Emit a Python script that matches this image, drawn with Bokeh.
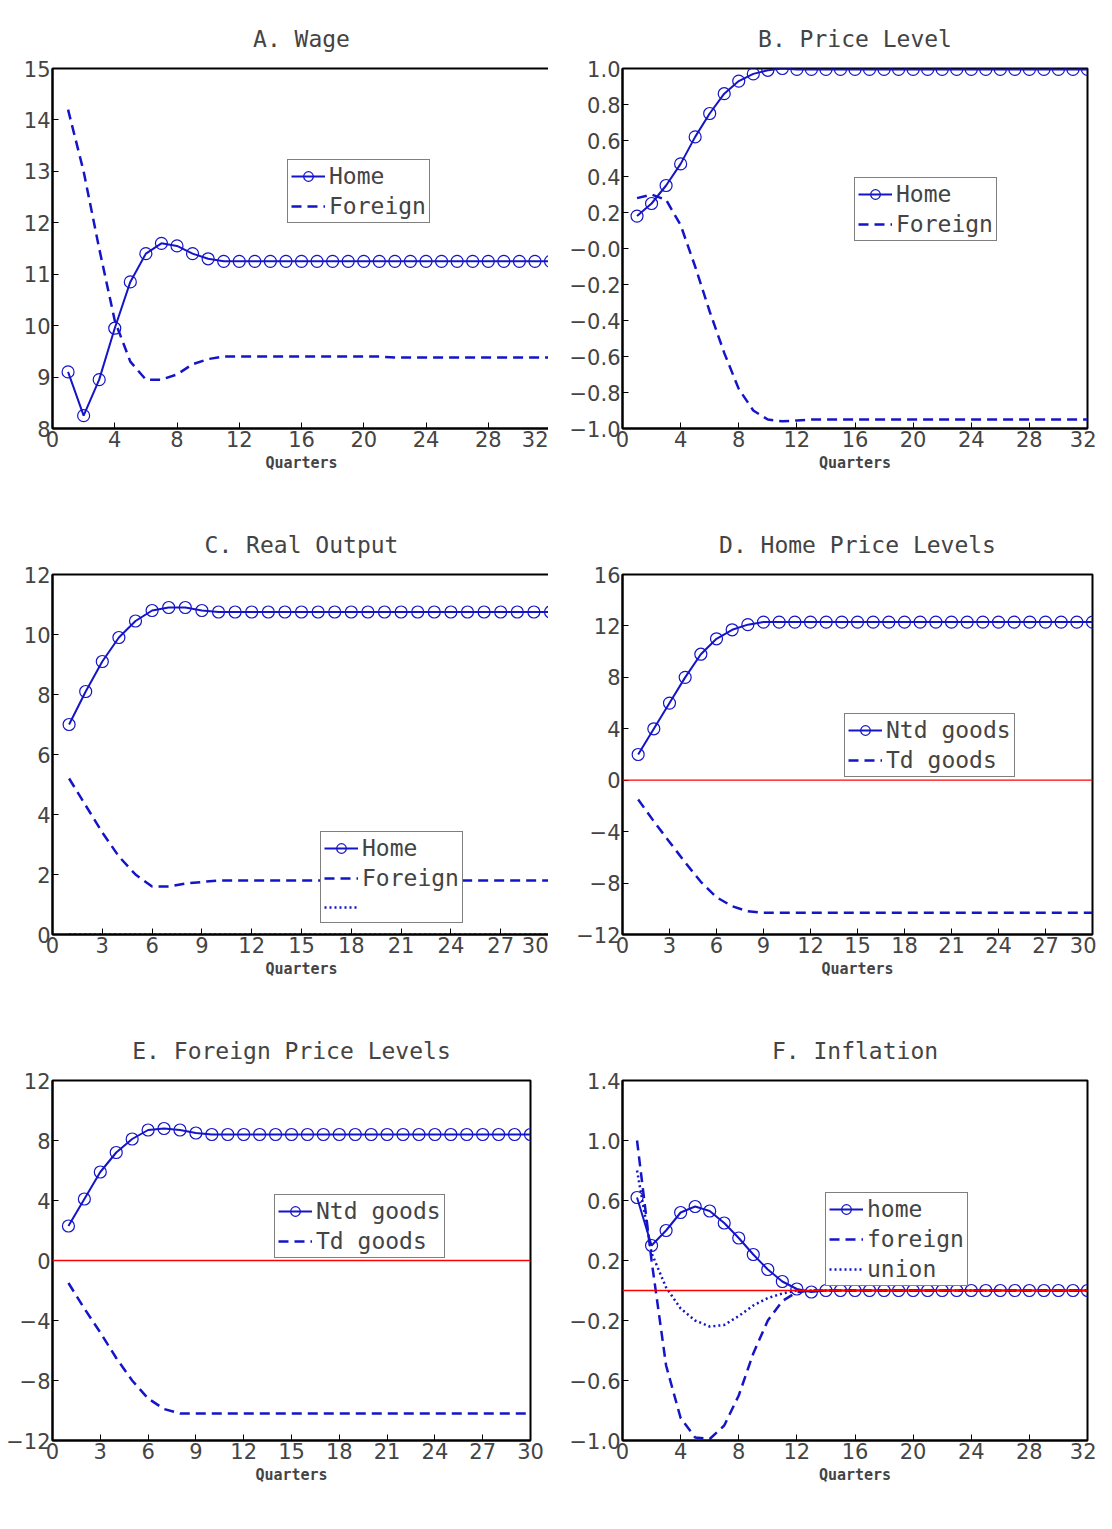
from bokeh.plotting import figure
from bokeh.models import Range1d, FixedTicker, Legend, LegendItem, Span
from bokeh.layouts import gridplot
from bokeh.embed import file_html
from bokeh.resources import INLINE

BLUE = "#1414c8"
FONT = "DejaVu Sans"
MONO = "DejaVu Sans Mono"

q32 = list(range(1, 33))
q30 = list(range(1, 31))

wage_home = [9.1, 8.25, 8.95, 9.95, 10.85, 11.4, 11.6, 11.55, 11.4, 11.3, 11.25] + [11.25] * 21
wage_foreign = [14.2, 13.0, 11.5, 10.1, 9.3, 8.95, 8.95, 9.05, 9.25, 9.35, 9.4] + [9.4] * 10 + [9.38] * 11

price_home = [0.18, 0.25, 0.35, 0.47, 0.62, 0.75, 0.86, 0.93, 0.97, 0.99, 1.0] + [0.995] * 21
price_foreign = [0.28, 0.30, 0.27, 0.13, -0.10, -0.35, -0.58, -0.78, -0.90, -0.95, -0.96, -0.955] + [-0.95] * 20

out_home = [7.0, 8.1, 9.1, 9.9, 10.45, 10.8, 10.9, 10.9, 10.8, 10.75] + [10.75] * 20
out_foreign = [5.2, 4.3, 3.4, 2.6, 2.0, 1.6, 1.6, 1.7, 1.75, 1.8] + [1.8] * 20
out_union = [0.0] * 30

hp_ntd = [2.0, 4.0, 6.0, 8.0, 9.8, 11.0, 11.7, 12.1, 12.3] + [12.3] * 21
hp_td = [-1.5, -3.2, -4.8, -6.4, -7.9, -9.1, -9.8, -10.2, -10.3] + [-10.3] * 21

fp_ntd = [2.3, 4.1, 5.9, 7.2, 8.1, 8.7, 8.8, 8.7, 8.5, 8.4] + [8.4] * 20
fp_td = [-1.5, -3.2, -4.8, -6.5, -8.0, -9.2, -9.9, -10.2] + [-10.2] * 22

inf_home = [0.62, 0.3, 0.4, 0.52, 0.56, 0.53, 0.45, 0.35, 0.24, 0.14, 0.06, 0.01, -0.01] + [0.0] * 19
inf_foreign = [1.0, 0.2, -0.5, -0.85, -0.98, -0.99, -0.9, -0.7, -0.42, -0.2, -0.07, -0.01] + [0.0] * 20
inf_union = [0.8, 0.25, 0.02, -0.12, -0.2, -0.24, -0.23, -0.17, -0.1, -0.05, -0.02, 0.0] + [0.0] * 20


def panel(title, xr, xticks, yr, yticks, left, fw, ylabels=None):
    p = figure(output_backend="svg", toolbar_location=None,
               frame_width=fw, frame_height=360,
               min_border_left=left, min_border_right=548 - left - fw,
               min_border_top=68, min_border_bottom=78,
               x_range=Range1d(*xr), y_range=Range1d(*yr), title=title)
    p.title.align = "center"
    p.title.text_font = MONO
    p.title.text_font_size = "23px"
    p.title.text_font_style = "normal"
    p.title.standoff = 34
    p.grid.visible = False
    p.outline_line_color = "black"
    p.outline_line_width = 2
    p.xaxis.ticker = FixedTicker(ticks=xticks)
    p.yaxis.ticker = FixedTicker(ticks=yticks)
    if ylabels:
        p.yaxis.major_label_overrides = ylabels
    p.xaxis.axis_label = "Quarters"
    for ax in (p.xaxis, p.yaxis):
        ax.axis_line_width = 2
        ax.major_tick_in = 6
        ax.major_tick_out = 0
        ax.minor_tick_line_color = None
        ax.major_label_text_font = FONT
        ax.major_label_text_font_size = "21px"
        ax.major_label_standoff = 2
    p.xaxis.axis_label_text_font = MONO
    p.xaxis.axis_label_text_font_size = "15px"
    p.xaxis.axis_label_text_font_style = "bold"
    p.xaxis.axis_label_standoff = 4
    return p


def series(p, x, home, other, names, loc, third=None, third_label="", zero=False):
    if zero:
        p.add_layout(Span(location=0, dimension="width", line_color="#ff0000", line_width=1.3))
    l1 = p.line(x, home, line_color=BLUE, line_width=2)
    c1 = p.scatter(x, home, size=12, fill_color=None, line_color=BLUE, line_width=1.2)
    l2 = p.line(x, other, line_color=BLUE, line_width=2.5, line_dash="10 6")
    items = [LegendItem(label=names[0], renderers=[l1, c1]),
             LegendItem(label=names[1], renderers=[l2])]
    if third is not None:
        l3 = p.line(x, third, line_color=BLUE, line_width=2.5, line_dash="2 3")
        items.append(LegendItem(label=third_label, renderers=[l3]))
    leg = Legend(items=items, location=loc, border_line_color="black", border_line_width=1,
                 label_text_font=MONO, label_text_font_size="23px", glyph_width=34,
                 label_height=24, glyph_height=24, spacing=4, padding=3, margin=0,
                 label_standoff=4, background_fill_alpha=1)
    p.add_layout(leg)


def dec(vals):
    return {v: (f"{v:.1f}".replace("-", "−") if v != 0 else "−0.0") for v in vals}


pa = panel("A. Wage", (0, 32), list(range(0, 33, 4)), (8, 15), list(range(8, 16)), 34, 498)
series(pa, q32, wage_home, wage_foreign, ["Home", "Foreign"], (249, 205))

bt = [round(-1 + 0.2 * i, 1) for i in range(11)]
pb = panel("B. Price Level", (0, 32), list(range(0, 33, 4)), (-1, 1), bt, 74, 465, dec(bt))
series(pb, q32, price_home, price_foreign, ["Home", "Foreign"], (232, 187))

pc = panel("C. Real Output", (0, 30), list(range(0, 31, 3)), (0, 12), list(range(0, 13, 2)), 34, 498)
series(pc, q30, out_home, out_foreign, ["Home", "Foreign"], (282, 11), third=out_union, third_label=" ")

pd_ = panel("D. Home Price Levels", (0, 30), list(range(0, 31, 3)), (-12, 16), list(range(-12, 17, 4)), 59, 470,
            {v: str(v).replace("-", "−") for v in range(-12, 17, 4)})
series(pd_, q30, hp_ntd, hp_td, ["Ntd goods", "Td goods"], (222, 157), zero=True)

pe = panel("E. Foreign Price Levels", (0, 30), list(range(0, 31, 3)), (-12, 12), list(range(-12, 13, 4)), 52, 478,
           {v: str(v).replace("-", "−") for v in range(-12, 13, 4)})
series(pe, q30, fp_ntd, fp_td, ["Ntd goods", "Td goods"], (222, 182), zero=True)

ft = [round(-1 + 0.4 * i, 1) for i in range(7)]
pf = panel("F. Inflation", (0, 32), list(range(0, 33, 4)), (-1, 1.4), ft, 74, 465, dec(ft))
series(pf, q32, inf_home, inf_foreign, ["home", "foreign"], (203, 154), third=inf_union, third_label="union", zero=True)

grid = gridplot([[pa, pb], [pc, pd_], [pe, pf]], toolbar_location=None)
open("out.html", "w").write(file_html(grid, INLINE))
